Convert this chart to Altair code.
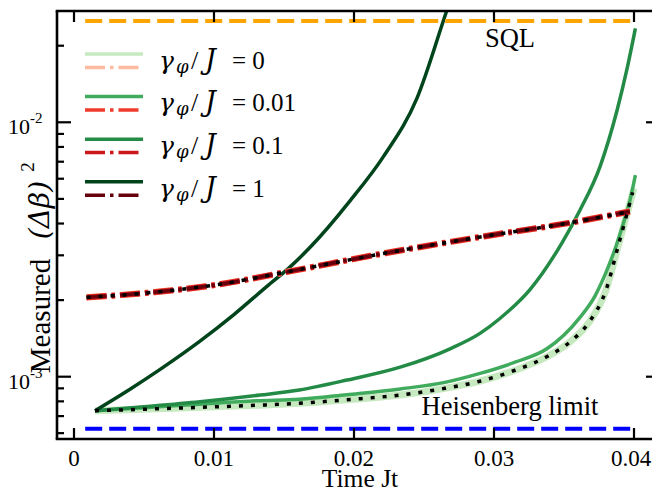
import altair as alt
import pandas as pd

# ---------------- axes ----------------
x_domain = [-0.001214, 0.041857]
y_domain = [5.69e-4, 2.738e-2]
x_ticks = [0, 0.01, 0.02, 0.03, 0.04]
x_tick_labels = ["0", "0.01", "0.02", "0.03", "0.04"]
y_major = [1e-3, 1e-2]
y_major_base = ["10", "10"]
y_major_exp = ["-3", "-2"]
y_minor = [6e-4, 7e-4, 8e-4, 9e-4, 2e-3, 3e-3, 4e-3, 5e-3, 6e-3, 7e-3, 8e-3, 9e-3, 2e-2]

# ---------------- series ----------------
gammas = ["0", "0.01", "0.1", "1"]
green_colors = ["#c7e9c0", "#41ab5d", "#238b45", "#00441b"]
red_colors = ["#fcbba1", "#ef3b2c", "#cb181d", "#67000d"]

# gamma/J = 0 (light green) and the dotted reference curve
t_g0 = [0.0015, 0.005, 0.009, 0.013, 0.0161, 0.0195, 0.0233, 0.0265, 0.029, 0.0315,
        0.0338, 0.0355, 0.0368, 0.038, 0.0389, 0.0395, 0.0400]
v_g0 = [7.35e-4, 7.45e-4, 7.58e-4, 7.72e-4, 7.86e-4, 8.12e-4, 8.47e-4, 9.0e-4, 9.6e-4, 1.06e-3,
        1.2e-3, 1.38e-3, 1.64e-3, 2.19e-3, 3.31e-3, 4.37e-3, 5.5e-3]
t_dot = [0.0015, 0.005, 0.009, 0.013, 0.0161, 0.0195, 0.0233, 0.0265, 0.029, 0.0315,
         0.0338, 0.0355, 0.0368, 0.038, 0.0389, 0.0395, 0.0399]
v_dot = [7.35e-4, 7.45e-4, 7.58e-4, 7.72e-4, 7.86e-4, 8.12e-4, 8.47e-4, 9.0e-4, 9.6e-4, 1.06e-3,
         1.2e-3, 1.38e-3, 1.64e-3, 2.19e-3, 3.31e-3, 4.37e-3, 5.3e-3]
# gamma/J = 0.01
t_g1 = [0.0015, 0.005, 0.009, 0.013, 0.0161, 0.0195, 0.0233, 0.0265, 0.029, 0.0315,
        0.0338, 0.0361, 0.0372, 0.038, 0.0387, 0.0392, 0.0397, 0.0401]
v_g1 = [7.35e-4, 7.55e-4, 7.8e-4, 8.04e-4, 8.15e-4, 8.5e-4, 8.95e-4, 9.5e-4, 1.03e-3, 1.14e-3,
        1.29e-3, 1.70e-3, 2.07e-3, 2.57e-3, 3.24e-3, 3.94e-3, 4.9e-3, 6.2e-3]
# gamma/J = 0.1
t_g2 = [0.0015, 0.005, 0.009, 0.0133, 0.0161, 0.0195, 0.0233, 0.0269, 0.029, 0.0304,
        0.0326, 0.0349, 0.0361, 0.0376, 0.0388, 0.0395, 0.0401]
v_g2 = [7.35e-4, 7.62e-4, 7.97e-4, 8.47e-4, 8.87e-4, 9.7e-4, 1.09e-3, 1.29e-3, 1.48e-3, 1.69e-3,
        2.21e-3, 3.39e-3, 4.47e-3, 6.76e-3, 1.12e-2, 1.62e-2, 2.34e-2]
# gamma/J = 1
t_g3 = [0.0015, 0.004, 0.0061, 0.009, 0.0114, 0.0138, 0.0154, 0.0169, 0.0197, 0.0221,
        0.0245, 0.0266, 0.0272]
v_g3 = [7.35e-4, 8.93e-4, 1.064e-3, 1.38e-3, 1.75e-3, 2.27e-3, 2.69e-3, 3.24e-3, 4.9e-3, 7.33e-3,
        1.245e-2, 2.72e-2, 3.39e-2]
# dash-dot (red) curves, all gammas overlap
t_r = [0.0009, 0.005, 0.01, 0.0155, 0.0218, 0.029, 0.0359, 0.0397]
v_r = [2.05e-3, 2.13e-3, 2.29e-3, 2.6e-3, 3.03e-3, 3.54e-3, 4.07e-3, 4.46e-3]

# limits
t_limit = [0.0008, 0.04]
sql_value = 0.025
heisenberg_value = 1 / 1600
annot_t = [0.03114, 0.03114]
annot_v = [0.02125, 7.6e-4]
annot_text = ["SQL", "Heisenberg limit"]

W, H = 603, 428
SERIF = "Liberation Serif"
MATH = "DejaVu Serif"

xs = alt.Scale(domain=x_domain, nice=False, zero=False)
ys = alt.Scale(type="log", domain=y_domain, nice=False)


def X(f="t"):
    return alt.X(f"{f}:Q", scale=xs, axis=None)


def Y(f="v"):
    return alt.Y(f"{f}:Q", scale=ys, axis=None)


def line(t, v, color, width, dash=None):
    kw = dict(color=color, strokeWidth=width, clip=True, interpolate="monotone", strokeCap="butt")
    if dash:
        kw["strokeDash"] = dash
    return alt.Chart(pd.DataFrame({"t": t, "v": v})).mark_line(**kw).encode(x=X(), y=Y())


one = pd.DataFrame({"a": [0]})
layers = []
# green solid curves
layers.append(line(t_g0, v_g0, green_colors[0], 7))
layers.append(line(t_g1, v_g1, green_colors[1], 3.5))
layers.append(line(t_g2, v_g2, green_colors[2], 3.5))
layers.append(line(t_g3, v_g3, green_colors[3], 3.5))
# red dash-dot curves
dd = [20, 5, 3.5, 5]
layers.append(line(t_r, v_r, red_colors[0], 6.5, dd))
layers.append(line(t_r, v_r, red_colors[1], 6, dd))
layers.append(line(t_r, v_r, red_colors[2], 5, dd))
layers.append(line(t_r, v_r, red_colors[3], 3.5, dd))
# black dotted curves
dots = [4, 8]
layers.append(line(t_dot, v_dot, "black", 3.5, dots))
layers.append(line(t_r, v_r, "black", 3.5, dots))
# limits
layers.append(line(t_limit, [sql_value] * 2, "#ffa500", 4, [17, 7]))
layers.append(line(t_limit, [heisenberg_value] * 2, "#0000ff", 4, [17, 7]))

# annotations
layers.append(
    alt.Chart(pd.DataFrame({"t": annot_t, "v": annot_v, "s": annot_text}))
    .mark_text(font=SERIF, fontSize=26.5, align="center", baseline="middle", color="black")
    .encode(x=X(), y=Y(), text="s:N")
)

# frame (left, top, bottom; right edge lies just outside the picture)
fk = dict(color="black", strokeWidth=2.6)
layers.append(alt.Chart(one).mark_rule(**fk).encode(x=alt.value(0), y=alt.value(0), y2=alt.value(H)))
layers.append(alt.Chart(one).mark_rule(**fk).encode(x=alt.value(-1.3), x2=alt.value(W), y=alt.value(0)))
layers.append(alt.Chart(one).mark_rule(**fk).encode(x=alt.value(-1.3), x2=alt.value(W), y=alt.value(H)))

# ticks
tick_kw = dict(color="black", strokeWidth=2.2)
dfx = pd.DataFrame({"t": x_ticks, "lab": x_tick_labels})
layers.append(alt.Chart(dfx).mark_rule(**tick_kw).encode(x=X(), y=alt.value(H), y2=alt.value(H - 11)))
layers.append(alt.Chart(dfx).mark_rule(**tick_kw).encode(x=X(), y=alt.value(0), y2=alt.value(11)))
dfym = pd.DataFrame({"v": y_major, "b": y_major_base, "e": y_major_exp})
dfyn = pd.DataFrame({"v": y_minor})
layers.append(alt.Chart(dfym).mark_rule(**tick_kw).encode(y=Y(), x=alt.value(0), x2=alt.value(14)))
layers.append(alt.Chart(dfym).mark_rule(**tick_kw).encode(y=Y(), x=alt.value(W - 14), x2=alt.value(W)))
layers.append(alt.Chart(dfyn).mark_rule(**tick_kw).encode(y=Y(), x=alt.value(0), x2=alt.value(7)))
layers.append(alt.Chart(dfyn).mark_rule(**tick_kw).encode(y=Y(), x=alt.value(W - 7), x2=alt.value(W)))

# tick labels (the last one nudged so it stays inside the picture)
layers.append(
    alt.Chart(dfx.iloc[:-1]).mark_text(font=SERIF, fontSize=23, align="center", baseline="middle",
                                       color="black")
    .encode(x=X(), y=alt.value(H + 20), text="lab:N")
)
layers.append(
    alt.Chart(dfx.iloc[-1:]).mark_text(font=SERIF, fontSize=23, align="center", baseline="middle",
                                       color="black", dx=-3)
    .encode(x=X(), y=alt.value(H + 20), text="lab:N")
)
layers.append(
    alt.Chart(dfym).mark_text(font=SERIF, fontSize=22, align="right", baseline="middle", dy=5, color="black")
    .encode(y=Y(), x=alt.value(-27), text="b:N")
)
layers.append(
    alt.Chart(dfym).mark_text(font=SERIF, fontSize=15, align="left", baseline="middle", dy=-4, color="black")
    .encode(y=Y(), x=alt.value(-27), text="e:N")
)

# axis titles
layers.append(
    alt.Chart(pd.DataFrame({"s": ["Time Jt"]}))
    .mark_text(font=SERIF, fontSize=25.5, align="center", baseline="middle", color="black")
    .encode(x=alt.value(303), y=alt.value(H + 40), text="s:N")
)
layers.append(
    alt.Chart(pd.DataFrame({"s": ["Measured"]}))
    .mark_text(font=SERIF, fontSize=29, align="center", baseline="middle", angle=270, color="black")
    .encode(x=alt.value(-16), y=alt.value(305), text="s:N")
)
layers.append(
    alt.Chart(pd.DataFrame({"s": ["(Δβ)"]}))
    .mark_text(font=MATH, fontSize=28, align="center", baseline="middle", angle=270, color="black",
               fontStyle="italic")
    .encode(x=alt.value(-16), y=alt.value(199), text="s:N")
)
layers.append(
    alt.Chart(pd.DataFrame({"s": ["2"]}))
    .mark_text(font=SERIF, fontSize=19, align="center", baseline="middle", angle=270, color="black")
    .encode(x=alt.value(-29), y=alt.value(156), text="s:N")
)

# legend
for i, g in enumerate(gammas):
    gy = 43 + 42.6 * i
    ry = gy + 13.4
    ty = gy + 6.7
    layers.append(alt.Chart(one).mark_rule(color=green_colors[i], strokeWidth=3.5)
                  .encode(x=alt.value(28), x2=alt.value(86), y=alt.value(gy)))
    layers.append(alt.Chart(one).mark_rule(color=red_colors[i], strokeWidth=3.5,
                                           strokeDash=dd, strokeCap="butt")
                  .encode(x=alt.value(28), x2=alt.value(86), y=alt.value(ry)))
    parts = [("γ", 102, 25, 0, "italic", MATH), ("φ", 119, 18, 7, "italic", MATH),
             ("/", 134, 26, 0, "normal", SERIF), ("J", 148, 27, 0, "italic", MATH),
             ("= " + g, 175, 25, 0, "normal", SERIF)]
    for txt, px, fs, dy, st, fnt in parts:
        layers.append(alt.Chart(pd.DataFrame({"s": [txt]}))
                      .mark_text(font=fnt, fontSize=fs, align="left", baseline="middle", dy=dy,
                                 fontStyle=st, color="black")
                      .encode(x=alt.value(px), y=alt.value(ty), text="s:N"))

chart = (
    alt.layer(*layers)
    .properties(width=W, height=H, autosize=alt.AutoSizeParams(type="none"),
                padding={"left": 49, "top": 3, "right": -8, "bottom": 52}, background="white")
    .configure_view(stroke=None)
)

chart.save("out.html", embed_options={"renderer": "svg", "actions": False})
